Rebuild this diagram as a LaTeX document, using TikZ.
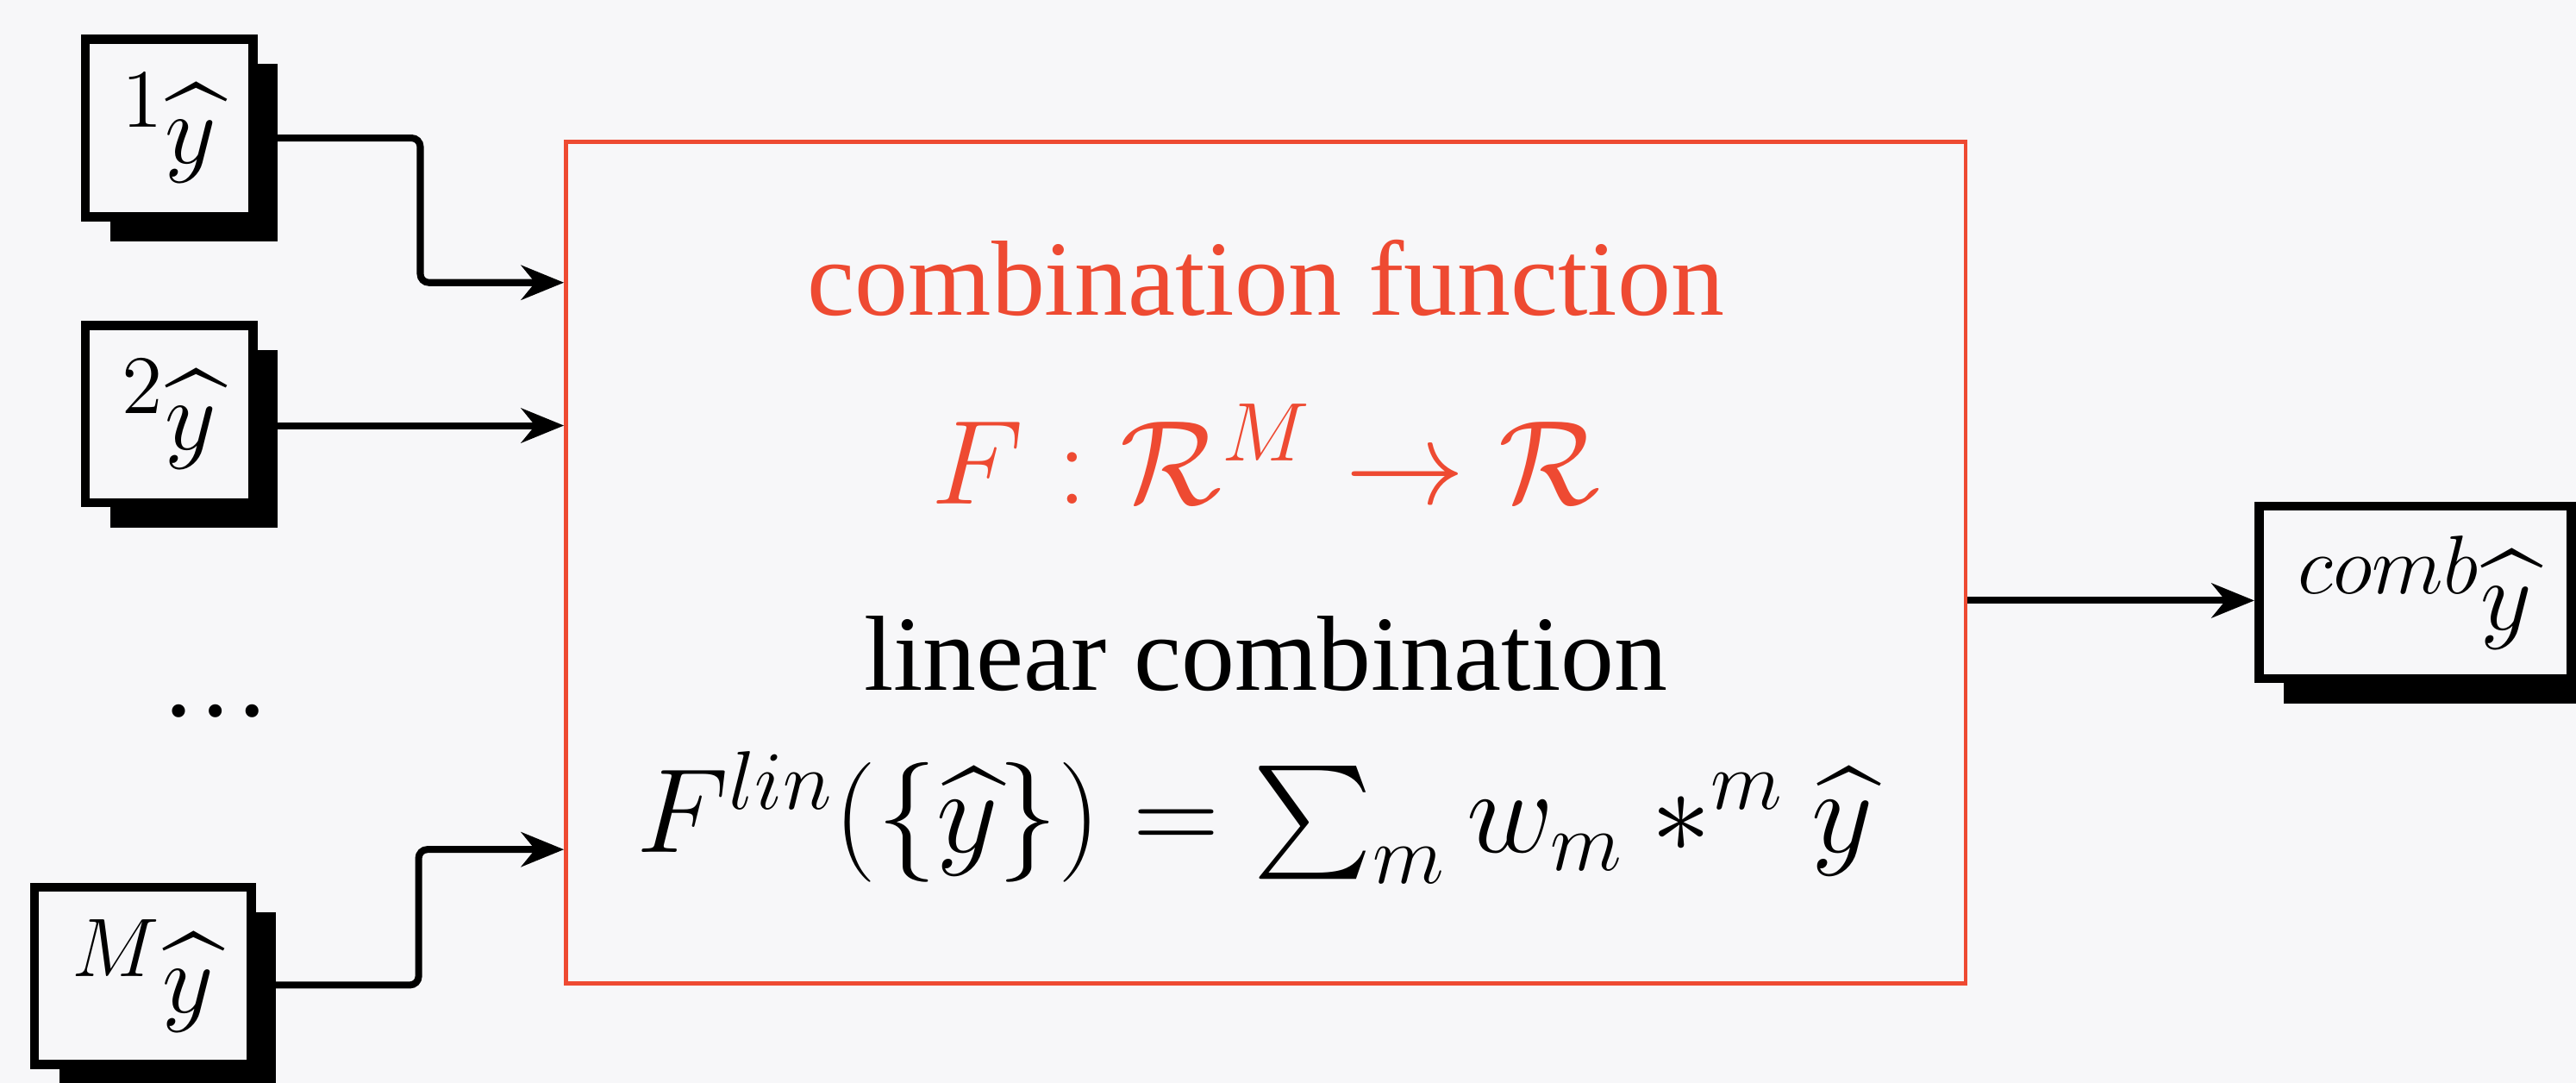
\documentclass[tikz,border=0pt]{standalone}
\usepackage{amsmath,amssymb}
\usepackage[no-math]{fontspec}
\setmainfont{Liberation Serif}
\usetikzlibrary{arrows.meta, calc, shadows}
\definecolor{fnred}{HTML}{EE4A32}
\definecolor{paper}{HTML}{F7F7F9}

\begin{document}
\begin{tikzpicture}[
  >={Stealth[length=2.6mm, width=2.1mm]},
  conn/.style={->, black, line width=1.2pt, rounded corners=1.5pt},
  predbox/.style={draw=black, line width=1.6pt, fill=paper,
    minimum width=1.02cm, minimum height=1.08cm, inner sep=0pt,
    drop shadow={shadow xshift=1.5mm, shadow yshift=-1.5mm,
      fill=black, opacity=1},
    font=\fontsize{19}{23}\selectfont},
  lbl/.style={font=\fontsize{18.5}{22}\selectfont, anchor=base},
]

% ══════════════════════════════════════════════════════
% Background
% ══════════════════════════════════════════════════════
\useasboundingbox (0,0) rectangle (15.68,6.59);
\fill[paper] (0,0) rectangle (15.68,6.59);

% ══════════════════════════════════════════════════════
% Member predictions (left)
% ══════════════════════════════════════════════════════
\node[predbox] (ypred1) at (1.03, 5.81) {${}^{1}\widehat{y}$};
\node[predbox] (ypred2) at (1.03, 4.07) {${}^{2}\widehat{y}$};
\node[font=\fontsize{19}{23}\selectfont] (ydots) at (1.31, 2.26) {\dots};
\node[predbox, minimum width=1.32cm] (ypredM) at (0.87, 0.65) {${}^{M}\widehat{y}$};

% ══════════════════════════════════════════════════════
% Combination function (red box)
% ══════════════════════════════════════════════════════
\node[draw=fnred, line width=0.7pt, minimum width=8.52cm, minimum height=5.12cm]
  (combfn) at (7.705, 3.165) {};

\node[lbl, fnred] (fntitle) at (7.705, 4.67) {combination function};
\node[lbl, fnred, font=\fontsize{21.8}{26}\selectfont] (fnsig) at (7.705, 3.52)
  {$F : \mathcal{R}^M \to \mathcal{R}$};
\node[lbl] (lintitle) at (7.705, 2.39) {linear combination};
\node[lbl, font=\fontsize{19.6}{24}\selectfont] (linform) at (7.64, 1.40)
  {$F^{lin}(\{\widehat{y}\}) = \sum_m w_m *^m \widehat{y}$};

% ══════════════════════════════════════════════════════
% Combined prediction (right, cut by the frame)
% ══════════════════════════════════════════════════════
\node[predbox, minimum width=1.90cm, minimum height=1.05cm]
  (yout) at (14.70, 2.985) {${}^{comb}\widehat{y}$};

% ══════════════════════════════════════════════════════
% Connectors
% ══════════════════════════════════════════════════════
\draw[conn] ([yshift=-0.6mm]ypred1.east) -- ++(0.99,0)
  |- ([yshift=17.05mm]combfn.west);
\draw[conn] ([yshift=-0.7mm]ypred2.east) -- ([yshift=-0.7mm]ypred2.east -| combfn.west);
\draw[conn] ([yshift=-0.55mm]ypredM.east) -- ++(0.99,0)
  |- ([yshift=-17.45mm]combfn.west);
\draw[conn] ([yshift=-0.5mm]yout.west -| combfn.east) -- ([yshift=-0.5mm]yout.west);

\end{tikzpicture}
\end{document}
